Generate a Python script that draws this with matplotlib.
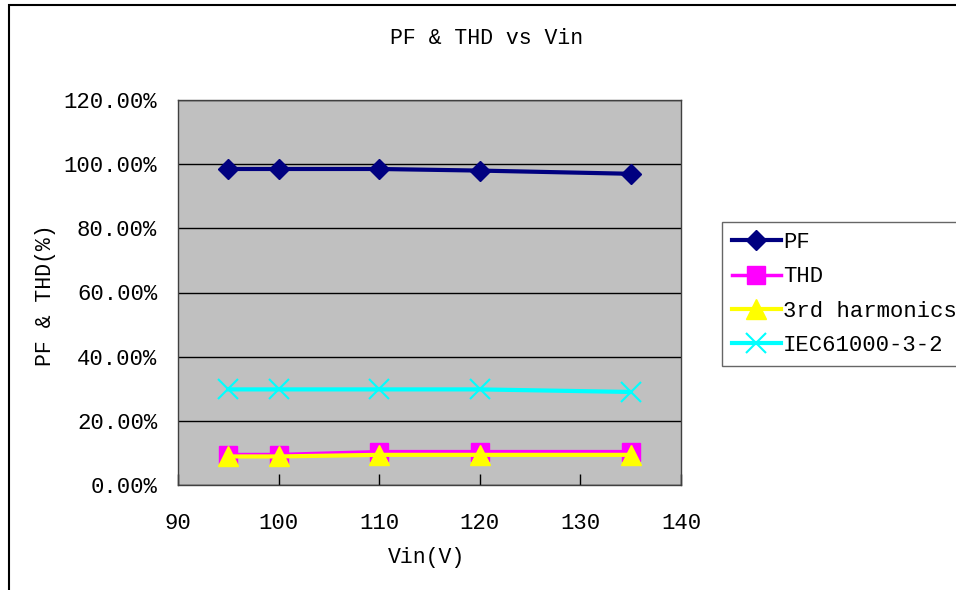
import matplotlib
matplotlib.use("Agg")
import matplotlib.pyplot as plt
from matplotlib.patches import Rectangle
from matplotlib.ticker import FuncFormatter

vin = [95, 100, 110, 120, 135]
pf = [98.5, 98.5, 98.5, 98.0, 97.0]
thd = [9.5, 9.5, 10.4, 10.4, 10.4]
h3 = [8.9, 8.9, 9.4, 9.4, 9.4]
iec = [29.8, 29.8, 29.8, 29.8, 29.0]

xticks = [90, 100, 110, 120, 130, 140]
yticks = [0, 20, 40, 60, 80, 100, 120]

W, H = 956, 590
plt.rcParams['font.family'] = ['Liberation Mono', 'DejaVu Sans']
fig = plt.figure(figsize=(W / 100, H / 100), dpi=100)

# outer chart border
fig.patches.append(Rectangle((9 / W, -0.05), 1.1, 1 - 5 / H + 0.05, transform=fig.transFigure,
                             fill=False, edgecolor='black', linewidth=1.5))

ax = fig.add_axes([178 / W, 1 - 485 / H, (681 - 178) / W, (485 - 100) / H])
ax.set_facecolor('#C0C0C0')
ax.set_xlim(90, 140)
ax.set_ylim(0, 120)
ax.set_xticks(xticks)
ax.set_yticks(yticks)
ax.yaxis.set_major_formatter(FuncFormatter(lambda v, p: f"{v:.2f}%"))
ax.yaxis.grid(True, color='black', linewidth=1)
ax.set_axisbelow(True)
ax.tick_params(axis='x', direction='in', length=8, width=1, pad=20, labelsize=16)
ax.tick_params(axis='y', length=0, pad=15, labelsize=16)
for s in ax.spines.values():
    s.set_color('#404040')
    s.set_linewidth(1)

ax.plot(vin, pf, color='#000080', lw=3, marker='D', ms=10, label='PF', zorder=5)
ax.plot(vin, thd, color='#FF00FF', lw=2.5, marker='s', ms=13, label='THD', zorder=4)
ax.plot(vin, h3, color='#FFFF00', lw=3, marker='^', ms=14, label='3rd harmonics', zorder=4.5)
ax.plot(vin, iec, color='#00FFFF', lw=3, marker='x', ms=14, mew=1.5, label='IEC61000-3-2', zorder=4)

fig.text(487 / W, 1 - 38 / H, 'PF & THD vs Vin', ha='center', va='center', fontsize=15.5)
fig.text(427 / W, 1 - 557 / H, 'Vin(V)', ha='center', va='center', fontsize=15.5)
fig.text(45 / W, 1 - 295 / H, 'PF & THD(%)', ha='center', va='center', rotation=90, fontsize=15.5)

leg = fig.legend(loc='upper left', bbox_to_anchor=(722 / W, 1 - 222 / H), fontsize=16,
                 frameon=True, fancybox=False, edgecolor='#404040', handlelength=2.2,
                 handletextpad=0.1, labelspacing=0.6, borderpad=0.45, borderaxespad=0)
leg.get_frame().set_linewidth(1)

fig.savefig('out.png', dpi=100)
